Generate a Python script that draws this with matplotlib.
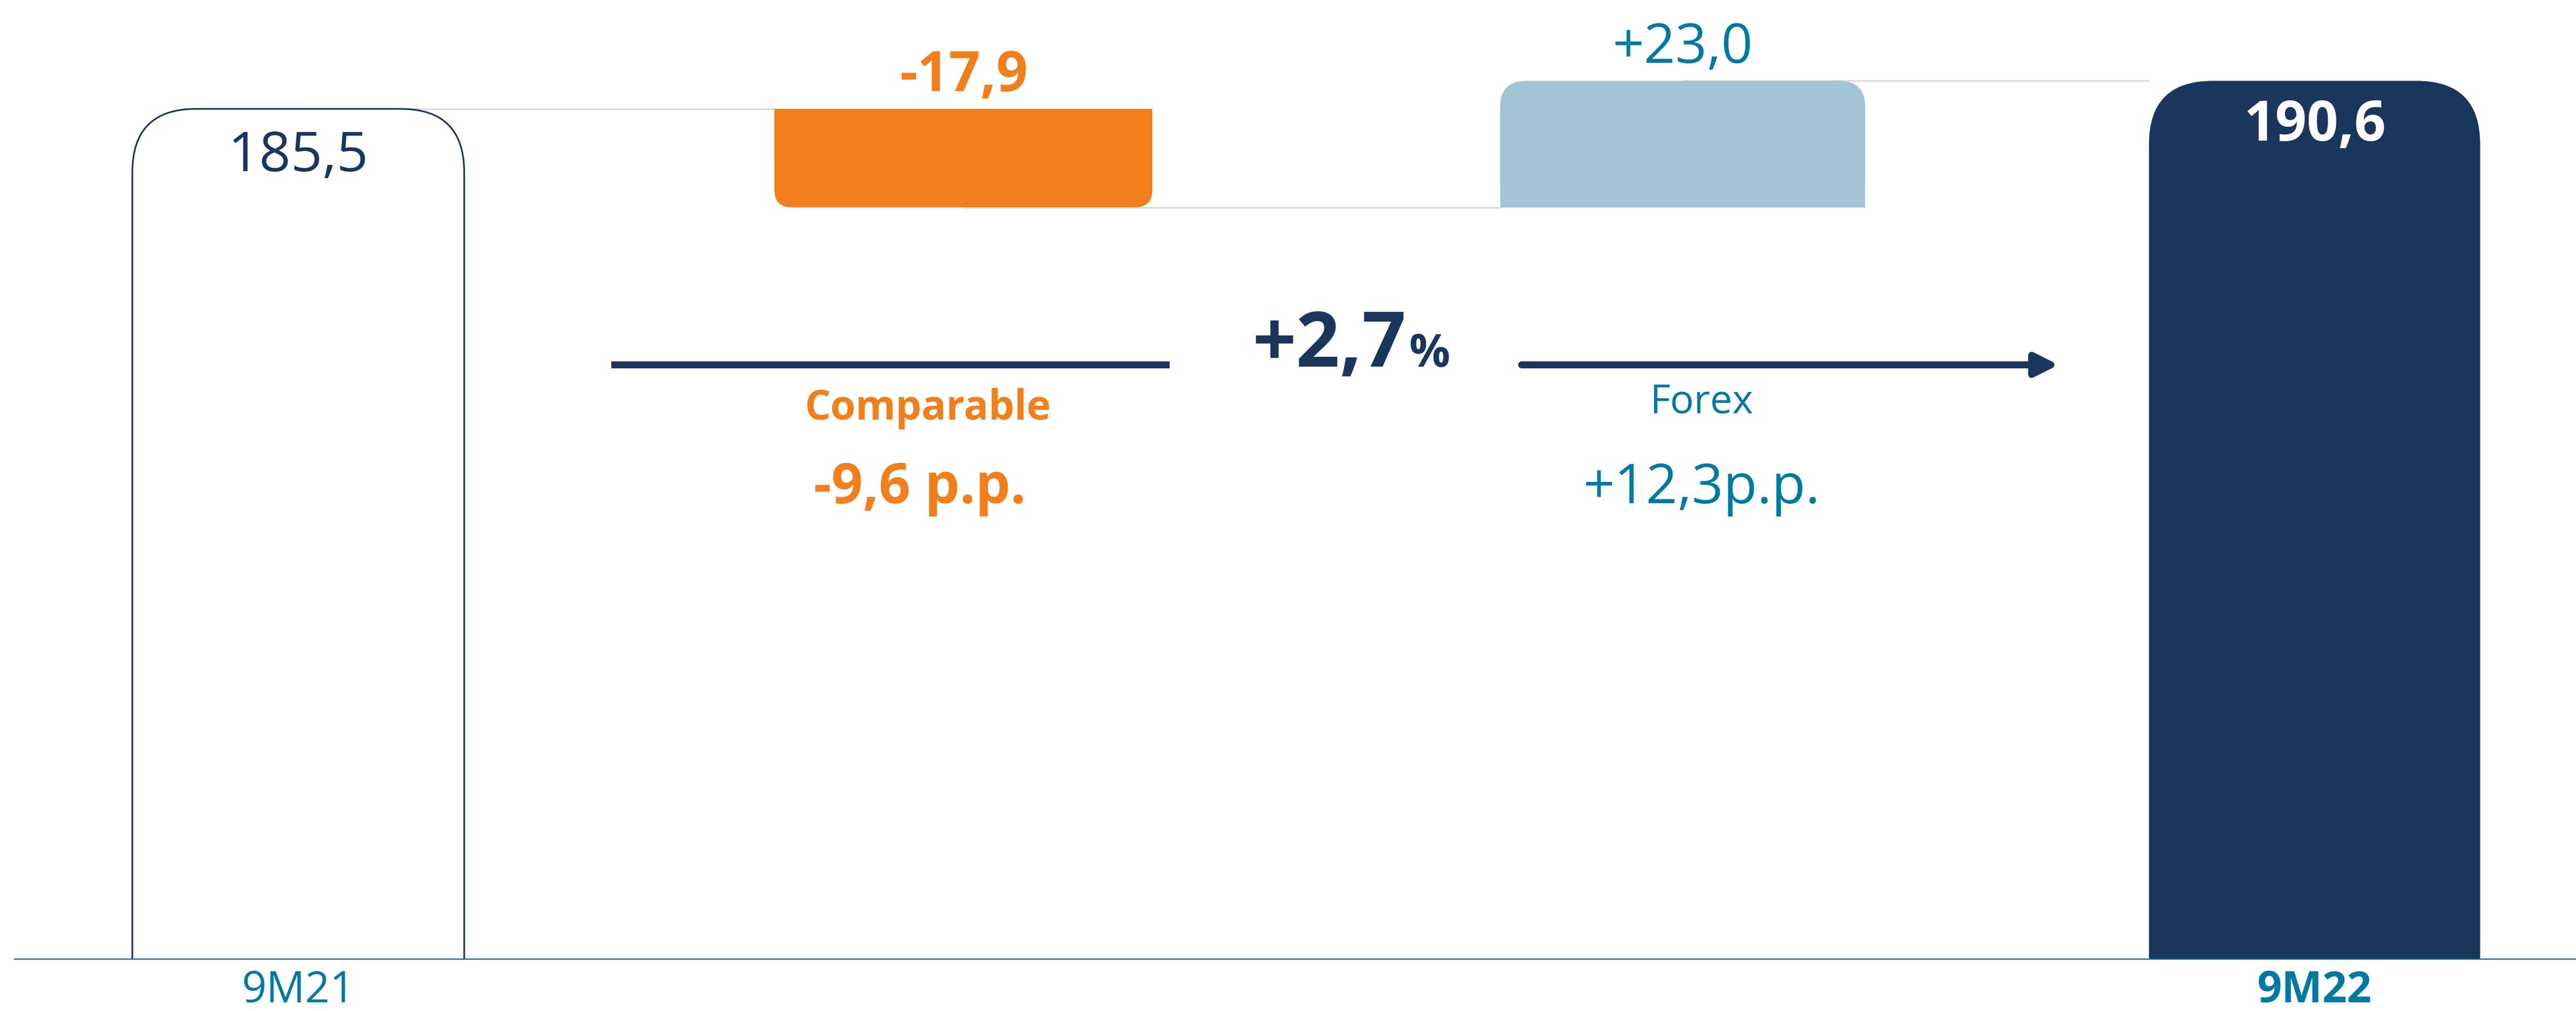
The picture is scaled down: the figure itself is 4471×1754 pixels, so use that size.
"""Waterfall 9M21 -> 9M22: comparable and forex effects."""
import matplotlib
matplotlib.use("Agg")
import matplotlib.pyplot as plt
import matplotlib.transforms as mtransforms
from matplotlib.patches import FancyBboxPatch, Rectangle

# ---- data -----------------------------------------------------------------
CATEGORIES = ["9M21", "Comparable", "Forex", "9M22"]
VALUES = [185.5, -17.9, 23.0, 190.6]
KINDS = ["total", "delta", "delta", "total"]
VALUE_LABELS = ["185,5", "-17,9", "+23,0", "190,6"]
TICK_LABELS = ["9M21", "", "", "9M22"]
GROWTH = "+2,7"
EFFECT_NAMES = ["Comparable", "Forex"]
EFFECT_PP = ["-9,6 p.p.", "+12,3p.p."]

# ---- layout / style -------------------------------------------------------
BAR_X = [0.0, 0.982, 2.044, 2.977]      # slide spacing is not quite even
BAR_W = [0.49, 0.558, 0.539, 0.489]
NAVY = "#1B365D"
ORANGE = "#F07F1C"
LIGHT_BLUE = "#A2C4D4"
TEAL = "#0079A3"
GREY = "#DEDEDE"
W, H, DPI = 4471, 1754, 300

plt.rcParams["font.family"] = ["Open Sans", "DejaVu Sans"]

fig = plt.figure(figsize=(W / DPI, H / DPI), dpi=DPI)
base_px = 1665
ax = fig.add_axes([0, (H - base_px) / H, 1, base_px / H])
XLIM = (-0.4404, 3.363)
YLIM = (30.8, 205.3)
ax.set_xlim(*XLIM)
ax.set_ylim(*YLIM)
for s in ax.spines.values():
    s.set_visible(False)
ax.set_yticks([])

# pixel transform for free annotations (origin top-left, like the picture)
px = mtransforms.Affine2D().scale(1 / W, -1 / H).translate(0, 1) + fig.transFigure

x_per_px = (XLIM[1] - XLIM[0]) / W
y_per_px = (YLIM[1] - YLIM[0]) / base_px


def rounded_bar(x, w, bottom, height, color, radius_px, round_top=True,
                square_other=True, edgecolor="none", lw=0, z=3):
    rx = radius_px * x_per_px
    ry = radius_px * y_per_px
    lo, hi = min(bottom, bottom + height), max(bottom, bottom + height)
    patch = FancyBboxPatch((x - w / 2, lo), w, hi - lo,
                           boxstyle=f"round,pad=0,rounding_size={rx}",
                           mutation_aspect=ry / rx, facecolor=color,
                           edgecolor=edgecolor, linewidth=lw, zorder=z)
    ax.add_patch(patch)
    if square_other:
        # square off the non-rounded end
        half = (hi - lo) / 2
        y0 = lo if round_top else lo + half
        ax.add_patch(Rectangle((x - w / 2, y0), w, half,
                               facecolor=color, edgecolor="none", zorder=z))


running = 0.0
levels = []
for i, (v, kind) in enumerate(zip(VALUES, KINDS)):
    x, w = BAR_X[i], BAR_W[i]
    if kind == "total":
        bottom, top = 0.0, v
        running = v
    else:
        bottom, top = running, running + v
        running = running + v
    levels.append(running)
    if i == 0:
        # bottom corners fall below the visible axis, no need to square them
        rounded_bar(x, w, bottom, top - bottom, "white", 110, square_other=False,
                    edgecolor=NAVY, lw=0.7)
        ax.annotate(VALUE_LABELS[i], (x, top), xytext=(0, -26), textcoords="offset points",
                    ha="center", va="baseline", fontsize=23, color=NAVY, zorder=5)
    elif i == 1:
        rounded_bar(x, w, bottom, top - bottom, ORANGE, 30, round_top=False)
        ax.annotate(VALUE_LABELS[i], (x, bottom), xytext=(0, 7.4), textcoords="offset points",
                    ha="center", va="baseline", fontsize=23, fontweight="bold",
                    color=ORANGE, zorder=5)
    elif i == 2:
        rounded_bar(x, w, bottom, top - bottom, LIGHT_BLUE, 45, round_top=True)
        ax.annotate(VALUE_LABELS[i], (x, top), xytext=(0, 7.4), textcoords="offset points",
                    ha="center", va="baseline", fontsize=23, color=TEAL, zorder=5)
    else:
        rounded_bar(x, w, bottom, top - bottom, NAVY, 110, square_other=False)
        ax.annotate(VALUE_LABELS[i], (x, top), xytext=(0, -25), textcoords="offset points",
                    ha="center", va="baseline", fontsize=23, fontweight="bold",
                    color="white", zorder=5)

# connectors
for i in range(len(VALUES) - 1):
    ax.hlines(levels[i], BAR_X[i], BAR_X[i + 1] - BAR_W[i + 1] / 2,
              color=GREY, lw=0.8, zorder=1)

# baseline
ax.axhline(YLIM[0], xmin=26 / W, xmax=1, color="#0B6A94", lw=1.0, zorder=6)

ax.set_xticks(BAR_X)
ax.set_xticklabels(TICK_LABELS, fontsize=18, color=TEAL)
ax.get_xticklabels()[3].set_fontweight("bold")
ax.tick_params(axis="x", length=0, pad=4)

# growth summary
fig.add_artist(plt.Line2D([1061, 2030], [633, 633], transform=px, color=NAVY, lw=2.9,
                          solid_capstyle="butt"))
ax.annotate("", xy=(3573, 633), xytext=(2641, 633), xycoords=px, textcoords=px,
            arrowprops=dict(arrowstyle="-|>,head_length=0.4,head_width=0.2",
                            mutation_scale=20, color=NAVY, lw=2.9,
                            shrinkA=0, shrinkB=0))
fig.text(2440, 636, GROWTH, transform=px, ha="right", va="baseline",
         fontsize=32, fontweight="bold", color=NAVY)
fig.text(2446, 636, "%", transform=px, ha="left", va="baseline",
         fontsize=19, fontweight="bold", color=NAVY)

fig.text(1611, 728, EFFECT_NAMES[0], transform=px, ha="center", va="baseline",
         fontsize=17, fontweight="bold", color=ORANGE)
fig.text(2953, 718, EFFECT_NAMES[1], transform=px, ha="center", va="baseline",
         fontsize=16.5, color=TEAL)
fig.text(1597, 873, EFFECT_PP[0], transform=px, ha="center", va="baseline",
         fontsize=23, fontweight="bold", color=ORANGE)
fig.text(2953, 873, EFFECT_PP[1], transform=px, ha="center", va="baseline",
         fontsize=23, color=TEAL)

fig.savefig("out.png", dpi=DPI, facecolor="white")
